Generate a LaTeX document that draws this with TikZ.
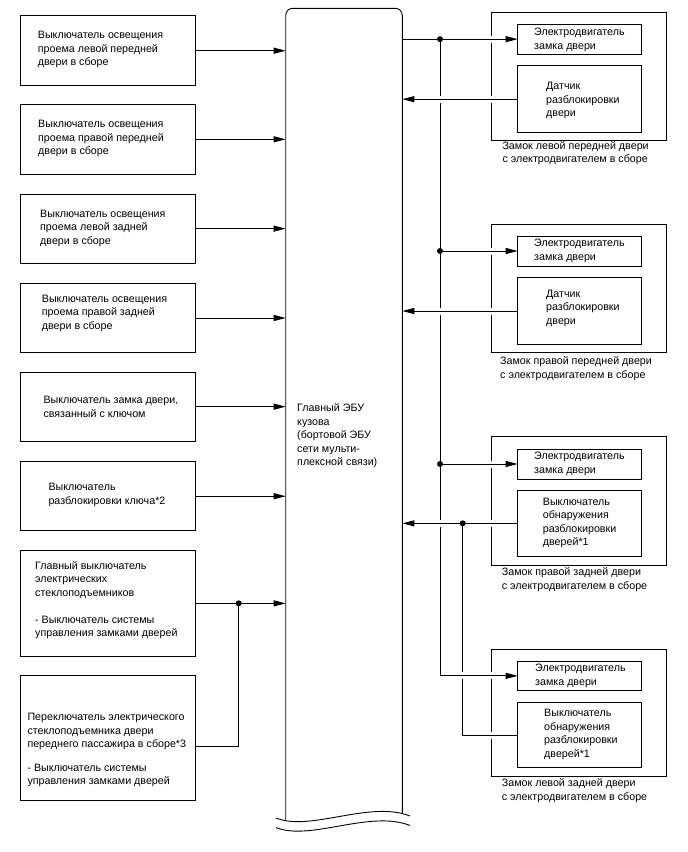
\documentclass[tikz,border=0pt]{standalone}
\usepackage{fontspec}
\setmainfont{Liberation Sans}
\usetikzlibrary{arrows.meta}
\begin{document}
\begin{tikzpicture}[x=1pt,y=-1pt,
  box/.style={draw, line width=0.9pt, anchor=north west, inner sep=0pt, outer sep=0pt},
  txt/.style={anchor=west, align=left, inner sep=0pt, font=\fontsize{10.7pt}{13.5pt}\selectfont},
  conn/.style={line width=0.9pt},
  arr/.style={conn, -{Triangle[length=12pt,width=6pt]}},
  halo/.style={preaction={draw=white, line width=7pt, arrows=-, shorten <=3pt, shorten >=3pt}},
  jdot/.style={circle, fill, inner sep=0pt, minimum size=6pt}
]
\useasboundingbox (0,0) rectangle (688,852);

% central ECU (frame area)
\node[draw=none, minimum width=116.6pt, minimum height=810pt, anchor=north west, inner sep=0pt, outer sep=0pt] (ecu) at (285.7,8.3) {};
\draw[conn, rounded corners=7pt] (285.7,820.8) -- (285.7,8.3) -- (402.3,8.3) -- (402.3,813.6);
\draw[conn] (276,818) .. controls (310,832) and (370,800) .. (410,816);
\draw[conn] (276,827.5) .. controls (310,841.5) and (370,809.5) .. (410,825.5);
\node[txt] (ecut) at (297,436) {Главный ЭБУ\\кузова\\(бортовой ЭБУ\\сети мульти-\\плексной связи)};

% left boxes
\node[box, minimum width=174.3pt, minimum height=70pt] (b1) at (20.7,15.7) {};
\node[box, minimum width=174.3pt, minimum height=70pt] (b2) at (20.7,104.3) {};
\node[box, minimum width=174.3pt, minimum height=69.3pt] (b3) at (20.7,194) {};
\node[box, minimum width=174.3pt, minimum height=69.4pt] (b4) at (20.7,283.3) {};
\node[box, minimum width=174.3pt, minimum height=68.7pt] (b5) at (20.7,372.3) {};
\node[box, minimum width=174.3pt, minimum height=69pt] (b6) at (20.7,461.7) {};
\node[box, minimum width=174.3pt, minimum height=106.7pt] (b7) at (20.7,550) {};
\node[box, minimum width=174.3pt, minimum height=124.3pt] (b8) at (20.7,675.7) {};

\node[txt] (t1) at (37.7,49.5) {Выключатель освещения\\проема левой передней\\двери в сборе};
\node[txt] (t2) at (38,138.8) {Выключатель освещения\\проема правой передней\\двери в сборе};
\node[txt] (t3) at (40,228.1) {Выключатель освещения\\проема левой задней\\двери в сборе};
\node[txt] (t4) at (41.7,313.3) {Выключатель освещения\\проема правой задней\\двери в сборе};
\node[txt] (t5) at (43.3,406.7) {Выключатель замка двери,\\связанный с ключом};
\node[txt] (t6) at (48.3,495) {Выключатель\\разблокировки ключа*2};
\node[txt] (t7) at (35,600.2) {Главный выключатель\\электрических\\стеклоподъемников\\[13.5pt]- Выключатель системы\\управления замками дверей};
\node[txt] (t8) at (27.3,750) {Переключатель электрического\\стеклоподъемника двери\\переднего пассажира в сборе*3\\[10pt]- Выключатель системы\\управления замками дверей};

% left connectors
\coordinate (lx) at (238.7,0);
\draw[arr] (b1.east) -- (b1.east -| ecu.west);
\draw[arr] (b2.east) -- (b2.east -| ecu.west);
\draw[arr] (b3.east) -- (b3.east -| ecu.west);
\draw[arr] (b4.east) -- (b4.east -| ecu.west);
\draw[arr] (b5.east) -- (b5.east -| ecu.west);
\draw[arr] (b6.east) -- (b6.east -| ecu.west);
\draw[arr] (b7.east) -- (b7.east -| ecu.west);
\draw[conn] ([yshift=-8.85pt]b8.east) -| (b7.east -| lx);
\node[jdot] (jl) at (b7.east -| lx) {};

% right outer boxes
\node[box, minimum width=175pt, minimum height=127.3pt] (o1) at (491.7,12.7) {};
\node[box, minimum width=175pt, minimum height=128.4pt] (o2) at (491.7,224.3) {};
\node[box, minimum width=175pt, minimum height=129pt] (o3) at (491.7,436) {};
\node[box, minimum width=175pt, minimum height=127.7pt] (o4) at (491.7,649) {};

% inner boxes
\node[box, minimum width=123.3pt, minimum height=30.3pt] (m1) at (517.7,24) {};
\node[box, minimum width=123.3pt, minimum height=67pt] (s1) at (517.7,65.7) {};
\node[box, minimum width=123.3pt, minimum height=30pt] (m2) at (517.7,236) {};
\node[box, minimum width=123.3pt, minimum height=66.6pt] (s2) at (517.7,277.7) {};
\node[box, minimum width=123.3pt, minimum height=30pt] (m3) at (517.7,449) {};
\node[box, minimum width=123.3pt, minimum height=66.7pt] (s3) at (517.7,490) {};
\node[box, minimum width=123.3pt, minimum height=29.7pt] (m4) at (517.7,661) {};
\node[box, minimum width=123.3pt, minimum height=65.4pt] (s4) at (517.7,702.3) {};

\node[txt] (tm1) at (534,39.7) {Электродвигатель\\замка двери};
\node[txt] (ts1) at (546,100.7) {Датчик\\разблокировки\\двери};
\node[txt] (c1) at (502.3,153) {Замок левой передней двери\\с электродвигателем в сборе};
\node[txt] (tm2) at (534,250.7) {Электродвигатель\\замка двери};
\node[txt] (ts2) at (546,308.3) {Датчик\\разблокировки\\двери};
\node[txt] (c2) at (500,368.5) {Замок правой передней двери\\с электродвигателем в сборе};
\node[txt] (tm3) at (534,464) {Электродвигатель\\замка двери};
\node[txt] (ts3) at (542.7,522.7) {Выключатель\\обнаружения\\разблокировки\\дверей*1};
\node[txt] (c3) at (501.7,579.7) {Замок правой задней двери\\с электродвигателем в сборе};
\node[txt] (tm4) at (535,675.7) {Электродвигатель\\замка двери};
\node[txt] (ts4) at (544,734.5) {Выключатель\\обнаружения\\разблокировки\\дверей*1};
\node[txt] (c4) at (501.7,790.5) {Замок левой задней двери\\с электродвигателем в сборе};

% right connectors
\coordinate (vx) at (440,0);
\coordinate (wx) at (462.7,0);
\draw[conn, halo] (s3.west -| wx) -- (s4.west -| wx) -- (s4.west);
\draw[arr, halo] (m1.west -| vx) -- (m4.west -| vx) -- (m4.west);
\draw[conn] (m1.west -| ecu.east) -- (m1.west -| vx);
\draw[arr, halo] (m1.west -| vx) -- (m1.west);
\draw[arr, halo] (m2.west -| vx) -- (m2.west);
\draw[arr, halo] (m3.west -| vx) -- (m3.west);
\draw[arr, halo] (s1.west) -- (s1.west -| ecu.east);
\draw[arr, halo] (s2.west) -- (s2.west -| ecu.east);
\draw[conn, halo] (s3.west) -- (s3.west -| wx);
\draw[arr, halo] (s3.west -| wx) -- (s3.west -| ecu.east);

\node[jdot] (j1) at (m1.west -| vx) {};
\node[jdot] (j2) at (m2.west -| vx) {};
\node[jdot] (j3) at (m3.west -| vx) {};
\node[jdot] (j4) at (s3.west -| wx) {};
\end{tikzpicture}
\end{document}
